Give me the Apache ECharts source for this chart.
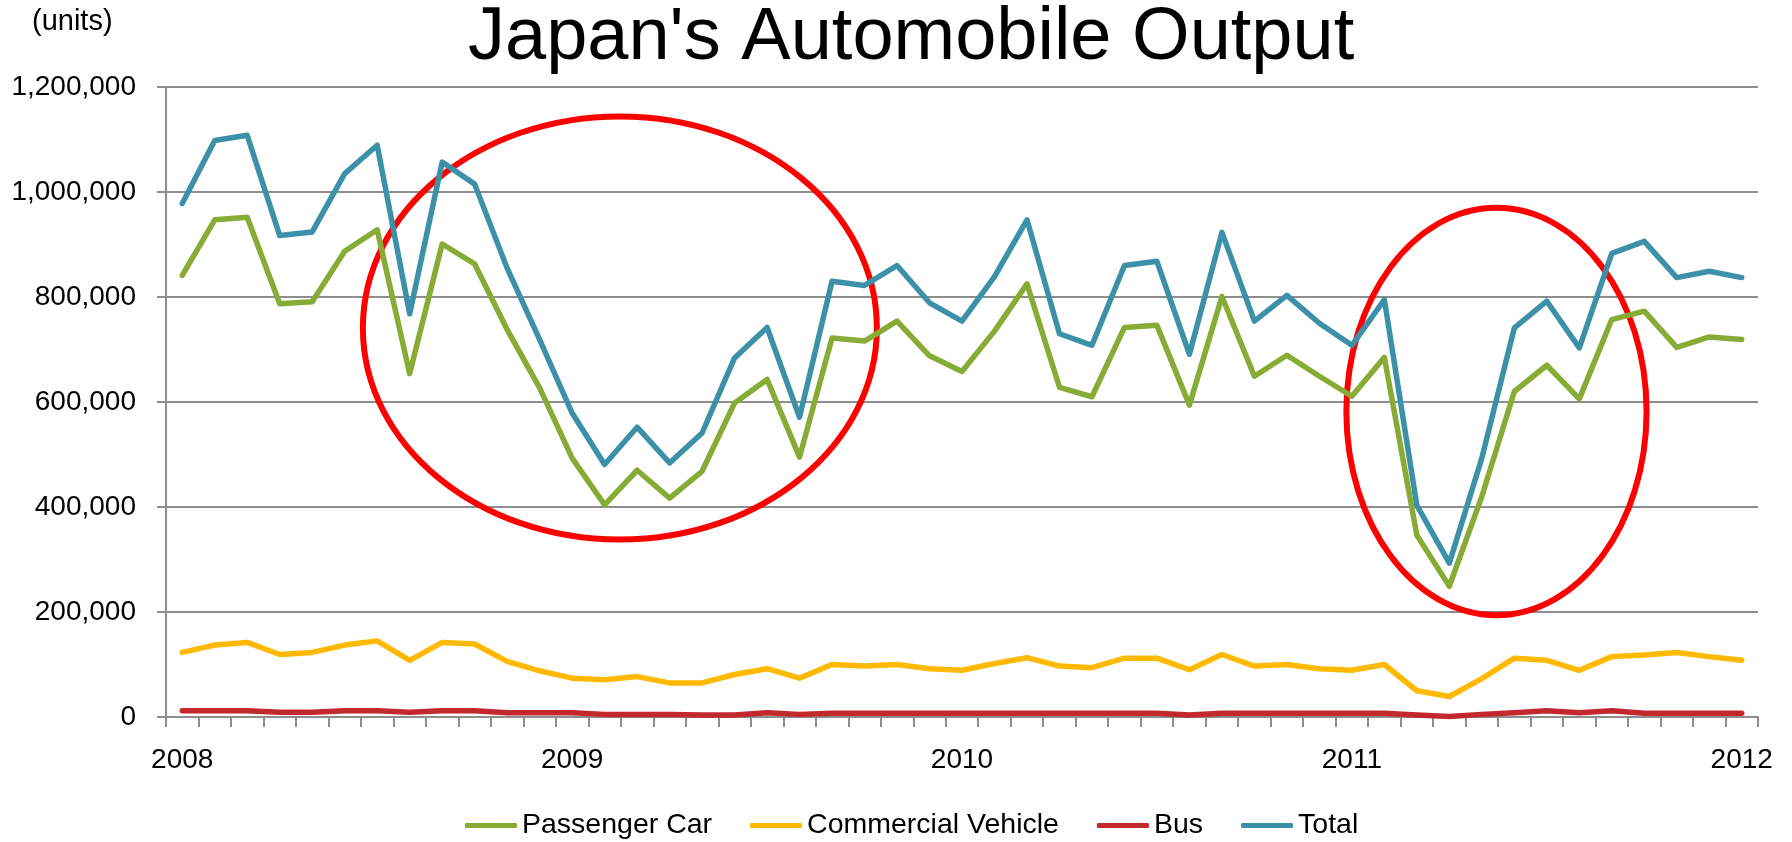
<!DOCTYPE html>
<html>
<head>
<meta charset="utf-8">
<title>Japan's Automobile Output</title>
<script src="https://cdn.jsdelivr.net/npm/echarts@6.0.0/dist/echarts.min.js"></script>
<style>
  html, body { margin: 0; padding: 0; background: #ffffff; }
  #chart { width: 1792px; height: 842px; }
</style>
</head>
<body>
<div id="chart"></div>
<script>
  // monthly, Jan 2008 .. Jan 2012
  const months = [
    '2008-01', '2008-02', '2008-03', '2008-04', '2008-05', '2008-06', '2008-07', '2008-08', '2008-09', '2008-10', '2008-11', '2008-12',
    '2009-01', '2009-02', '2009-03', '2009-04', '2009-05', '2009-06', '2009-07', '2009-08', '2009-09', '2009-10', '2009-11', '2009-12',
    '2010-01', '2010-02', '2010-03', '2010-04', '2010-05', '2010-06', '2010-07', '2010-08', '2010-09', '2010-10', '2010-11', '2010-12',
    '2011-01', '2011-02', '2011-03', '2011-04', '2011-05', '2011-06', '2011-07', '2011-08', '2011-09', '2011-10', '2011-11', '2011-12',
    '2012-01',
  ]

  const passengerCar = [
    841000, 947000, 952000, 787000, 791000, 887000, 928000, 654000, 901000, 863000, 738000, 627000,
    493000, 404000, 470000, 417000, 468000, 598000, 643000, 495000, 722000, 716000, 754000, 688000,
    658000, 735000, 825000, 628000, 610000, 742000, 746000, 594000, 801000, 649000, 689000, 649000,
    611000, 685000, 346000, 249000, 420000, 620000, 670000, 606000, 757000, 773000, 704000, 724000,
    719000,
  ]

  const commercialVehicle = [
    123000, 137000, 142000, 119000, 123000, 137000, 145000, 108000, 142000, 139000, 106000, 88000,
    74000, 71000, 77000, 65000, 65000, 81000, 92000, 74000, 100000, 97000, 100000, 92000,
    89000, 102000, 113000, 97000, 94000, 112000, 112000, 90000, 119000, 97000, 100000, 92000,
    89000, 100000, 50000, 39000, 73000, 112000, 108000, 89000, 115000, 118000, 123000, 115000,
    108000,
  ]

  const bus = [
    12000, 12000, 12000, 9000, 9000, 12000, 12000, 9000, 12000, 12000, 8000, 8000,
    8000, 5000, 5000, 5000, 4000, 4000, 8000, 5000, 7000, 7000, 7000, 7000,
    7000, 7000, 7000, 7000, 7000, 7000, 7000, 4000, 7000, 7000, 7000, 7000,
    7000, 7000, 4000, 1000, 5000, 8000, 12000, 8000, 12000, 7000, 7000, 7000,
    7000,
  ]

  const total = [
    978000, 1098000, 1108000, 917000, 924000, 1035000, 1089000, 768000, 1057000, 1015000, 855000, 719000,
    579000, 481000, 552000, 484000, 541000, 684000, 742000, 571000, 830000, 822000, 860000, 789000,
    754000, 839000, 947000, 730000, 708000, 860000, 868000, 691000, 923000, 754000, 803000, 750000,
    708000, 795000, 403000, 293000, 493000, 741000, 792000, 703000, 883000, 906000, 837000, 849000,
    837000,
  ]

  // red rings drawn by hand on the original: centre (month index, units), radii (months, units)
  const rings = [
    { month: 13.47, value: 741000, rMonths: 7.91, rValue: 403000 },
    { month: 40.45, value: 582000, rMonths: 4.62, rValue: 388000 },
  ]

  const gridGrey = '#8e8e8e'
  const font = "'Liberation Sans', Arial, sans-serif"

  function lineSeries(name, data, color) {
    return {
      name: name,
      type: 'line',
      data: data,
      symbol: 'none',
      itemStyle: { color: color },
      lineStyle: { width: 5.5, color: color, cap: 'round', join: 'round' },
      emphasis: { disabled: true },
    }
  }

  const chart = echarts.init(document.getElementById('chart'))
  chart.setOption({
    animation: false,
    textStyle: { fontFamily: font },
    title: [
      {
        text: "Japan's Automobile Output",
        left: 468,
        top: 2,
        padding: 0,
        textStyle: { fontSize: 74, fontWeight: 'normal', color: '#000' },
      },
      {
        text: '(units)',
        left: 32,
        top: 7,
        padding: 0,
        textStyle: { fontSize: 29, fontWeight: 'normal', color: '#000' },
      },
    ],
    legend: {
      top: 811,
      left: 465,
      padding: 0,
      itemGap: 38,
      itemWidth: 52,
      itemHeight: 5,
      icon: 'roundRect',
      textStyle: { fontSize: 28.5, color: '#000' },
    },
    grid: { left: 166, right: 34, top: 87, bottom: 125, outerBoundsMode: 'none' },
    xAxis: {
      type: 'category',
      data: months,
      boundaryGap: true,
      axisLine: { lineStyle: { color: gridGrey, width: 2 } },
      axisTick: { show: true, interval: 0, length: 10, lineStyle: { color: gridGrey, width: 2 } },
      axisLabel: {
        interval: (i) => i % 12 === 0,
        formatter: (v) => v.slice(0, 4),
        margin: 29,
        fontSize: 28,
        color: '#000',
      },
      splitLine: { show: false },
    },
    yAxis: {
      type: 'value',
      min: 0,
      max: 1200000,
      interval: 200000,
      axisLine: { show: true, lineStyle: { color: gridGrey, width: 2 } },
      axisTick: { show: true, length: 9, lineStyle: { color: gridGrey, width: 2 } },
      axisLabel: {
        margin: 30,
        fontSize: 28,
        color: '#000',
        formatter: (v) => v.toLocaleString('en-US'),
      },
      splitLine: { lineStyle: { color: gridGrey, width: 2 } },
    },
    series: [
      lineSeries('Passenger Car', passengerCar, '#87ab34'),
      lineSeries('Commercial Vehicle', commercialVehicle, '#ffb900'),
      lineSeries('Bus', bus, '#c3282c'),
      lineSeries('Total', total, '#3c91a8'),
    ],
  })

  // place the rings through the chart's own scales
  const p0 = chart.convertToPixel({ gridIndex: 0 }, [0, 0])
  const p1 = chart.convertToPixel({ gridIndex: 0 }, [1, 100000])
  const pxPerMonth = p1[0] - p0[0]
  const pxPerUnit = (p0[1] - p1[1]) / 100000
  chart.setOption({
    graphic: rings.map((r) => ({
      type: 'ellipse',
      z: 1,
      silent: true,
      shape: {
        cx: p0[0] + r.month * pxPerMonth,
        cy: p0[1] - r.value * pxPerUnit,
        rx: r.rMonths * pxPerMonth,
        ry: r.rValue * pxPerUnit,
      },
      style: { fill: 'none', stroke: '#ff0000', lineWidth: 6 },
    })),
  })

  window.onresize = function () {
    chart.resize()
  }
</script>
</body>
</html>
